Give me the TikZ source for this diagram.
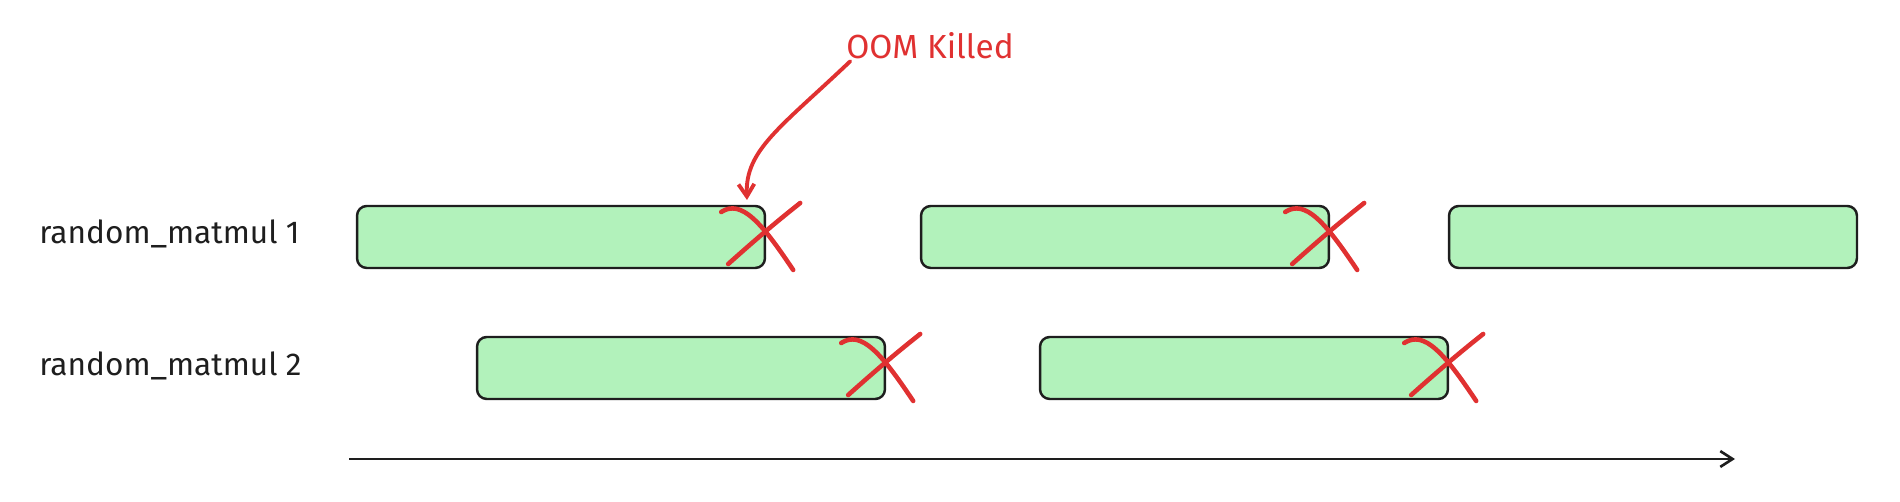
\documentclass[tikz,border=0pt]{standalone}
\usepackage{fontspec}
\setmainfont{Fira Sans}
\usetikzlibrary{arrows.meta}

\definecolor{boxgreen}{HTML}{B2F2BB}
\definecolor{inkred}{HTML}{E03131}
\definecolor{ink}{HTML}{1E1E1E}

\tikzset{
	job/.style={draw=ink, fill=boxgreen, line width=1.4pt, rounded corners=5.5pt,
		minimum width=8.16cm, minimum height=1.24cm, inner sep=0pt},
	lbl/.style={font=\fontsize{18}{22}\selectfont, text=ink, anchor=west, inner sep=0pt},
	cross/.style={draw=inkred, line width=2.6pt, line cap=round},
	oomarrow/.style={draw=inkred, line width=2.2pt, line cap=round,
		-{Straight Barb[length=7pt, width=9pt, line width=2.2pt]}},
	timeline/.style={draw=ink, line width=1.5pt,
		-{Straight Barb[length=7pt, width=9pt, line width=1.5pt]}},
}

\begin{document}
\begin{tikzpicture}[x=0.02cm, y=-0.02cm]
				\useasboundingbox (0,0) rectangle (1900,502);
				
				% labels
				\node[lbl] (r1) at (39,234) {random\_matmul 1};
				\node[lbl] (r2) at (39,366) {random\_matmul 2};
				
				% jobs, first row
				\node[job] (b1) at (561,237) {};
				\node[job] (b2) at (1125,237) {};
				\node[job] (b3) at (1653,237) {};
				
				% jobs, second row
				\node[job] (b4) at (681,368) {};
				\node[job] (b5) at (1244,368) {};
				
				% crosses
				\foreach \b in {b1,b2,b4,b5} {
					\begin{scope}[shift={(\b.east)}]
						\draw[cross] (-45,-25) .. controls (-25,-38) and (-5,-15) .. (27,33);
						\draw[cross] (-38,27) .. controls (-10,2) and (10,-15) .. (34,-34);
					\end{scope}
				}
				
				% oom note
				\node[font=\fontsize{19}{22}\selectfont, text=inkred, inner sep=1pt] (oom) at (930,46) {OOM Killed};
				\coordinate (tip) at (747,200);
				\draw[oomarrow] ([xshift=0.12cm]oom.south west) .. controls (780,128) and (745,150) .. (tip);
				
				% time axis
				\coordinate (t0) at (349,459);
				\coordinate (t1) at (1735,459);
				\draw[timeline] (t0) -- (t1);
				
\end{tikzpicture}
\end{document}
